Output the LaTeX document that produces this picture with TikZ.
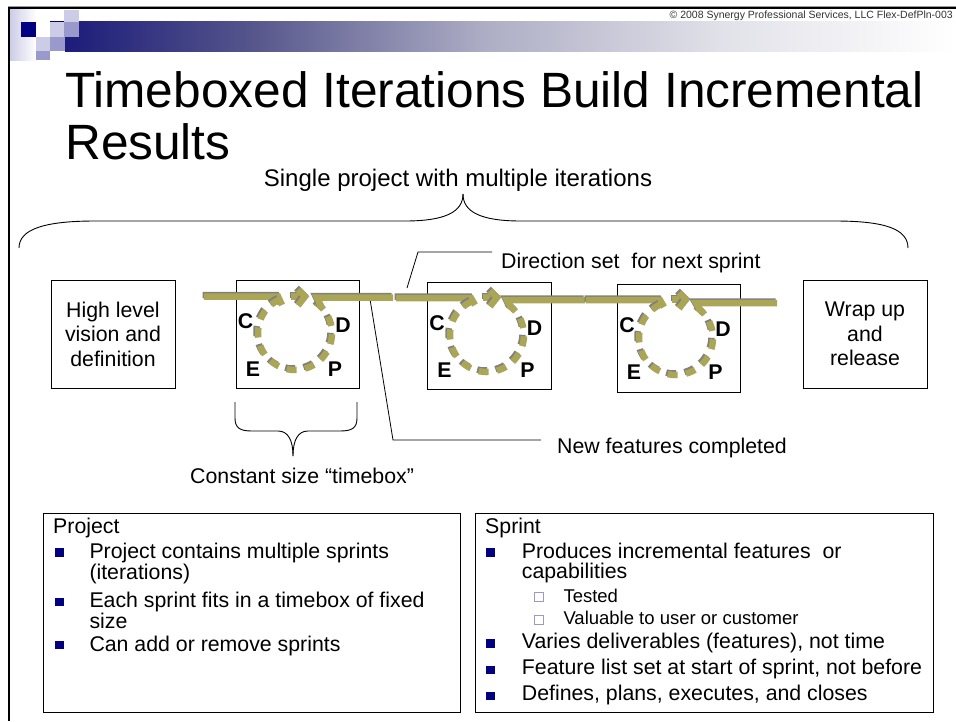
\documentclass[tikz,border=0pt]{standalone}
\usepackage{fontspec}
\setmainfont{Liberation Sans}
\definecolor{olv}{RGB}{170,166,86}
\definecolor{shd}{RGB}{128,128,128}
\definecolor{navyb}{RGB}{0,0,128}
\definecolor{lavA}{RGB}{204,204,230}
\definecolor{lavB}{RGB}{153,153,204}
\definecolor{barA}{RGB}{28,28,122}
\definecolor{barB}{RGB}{85,85,140}
\definecolor{barC}{RGB}{172,172,196}
\definecolor{barD}{RGB}{225,225,233}
\newcommand\olvpath[1]{\draw[shadow line] #1; \draw[olive line] #1;}
\newcommand\cycle[3]{% cx, cy, y0
  \olvpath{[dash pattern=on 10pt off 8.4pt] ($(#1,#2)+(-55:37)$) arc[start angle=-55, end angle=245, radius=37]}
  \olvpath{(#1-4,#3) -- (#1+4,#3)}
  \olvpath{(#1+3,#3-7) -- (#1+10,#3) -- (#1+3,#3+9)}
}
\usetikzlibrary{calc}
\tikzset{
  olive line/.style={line width=6.5pt, draw=olv, line join=miter},
  shadow line/.style={line width=6.5pt, draw=shd, line join=miter, shift={(-1.5,-1.5)}},
  frame box/.style={draw, line width=0.9pt, fill=white, inner sep=0pt},
  letter/.style={font=\fontsize{21.3}{24}\selectfont\bfseries, inner sep=0pt},
  txt/.style={font=\fontsize{21.3}{20}\selectfont, inner sep=0pt, anchor=base west},
  subtxt/.style={font=\fontsize{18.5}{20}\selectfont, inner sep=0pt, anchor=base west},
  boxtxt/.style={font=\fontsize{21.3}{24.5}\selectfont, align=center},
  bul/.style={fill=navyb, minimum size=8.5pt, inner sep=0pt},
  subbul/.style={draw=lavB, fill=white, line width=0.8pt, minimum size=9pt, inner sep=0pt},
  leader/.style={draw, line width=0.8pt},
  brace line/.style={draw, line width=0.9pt},
}
\begin{document}
\begin{tikzpicture}[x=1pt,y=-1pt]
\useasboundingbox (0,0) rectangle (956,721);
\fill[white] (0,0) rectangle (956,721);

% header bar
\shade[left color=barA, right color=barB] (65,21) rectangle (250.5,51);
\shade[left color=barB, right color=barC] (250,21) rectangle (480.5,51);
\shade[left color=barC, right color=barD] (480,21) rectangle (720.5,51);
\shade[left color=barD, right color=white] (720,21) rectangle (956,51);
\shade[left color=lavA, right color=white] (10,9) rectangle (36,60);
\fill[navyb] (21,22) rectangle (36,37);
\fill[lavA] (64,9.5) rectangle (79,22);
\fill[lavA] (50,22) rectangle (65,37);
\fill[lavA] (36,37) rectangle (50,51);
\fill[lavB] (64,22) rectangle (79,37);
\fill[lavB] (50,37) rectangle (65,51);
\fill[lavB] (36,51) rectangle (50,60);
\draw[navyb, line width=1pt] (50,21.5) -- (64,21.5);

% frame
\draw[black!40, line width=1pt] (8,6.2) -- (956,6.2);
\draw[black, line width=2.5pt] (8.8,721) -- (8.8,8) -- (956,8);

\node[font=\fontsize{10.5}{12}\selectfont, text=black!80, inner sep=0pt, anchor=base east] (copy) at (953,18) {© 2008 Synergy Professional Services, LLC Flex-DefPln-003};

% title
\node[font=\fontsize{49.6}{51}\selectfont, inner sep=0pt, anchor=base west] (title1) at (65,107.5) {Timeboxed Iterations Build Incremental};
\node[font=\fontsize{49.6}{51}\selectfont, inner sep=0pt, anchor=base west] (title2) at (65,159) {Results};

% top brace
\node[font=\fontsize{24}{26}\selectfont, inner sep=0pt, anchor=base] (single) at (458,186) {Single project with multiple iterations};
\draw[brace line] (19,248) .. controls (19,229) and (45,221) .. (95,221) -- (405,221) .. controls (445,221) and (463,212) .. (463,194);
\draw[brace line] (463,194) .. controls (463,212) and (481,221) .. (521,221) -- (835,221) .. controls (885,221) and (908,229) .. (908,248);

% boxes
\node[frame box, boxtxt, minimum width=124pt, minimum height=108pt] (hl) at (113,334) {High level\\vision and\\definition};
\node[frame box, minimum width=123pt, minimum height=108pt] (s1) at (297.5,334) {};
\node[frame box, minimum width=124pt, minimum height=107pt] (s2) at (489,335.5) {};
\node[frame box, minimum width=123pt, minimum height=108pt] (s3) at (678.5,338) {};
\node[frame box, boxtxt, minimum width=124pt, minimum height=108pt] (wr) at (865,334) {Wrap up\\and\\release};

% callouts
\coordinate (da) at (407,288);
\coordinate (db) at (418,252);
\coordinate (dc) at (492,252);
\draw[leader] (da) -- (db) -- (dc);
\node[txt] (dir) at (501,268) {Direction set\ \ for next sprint};
\coordinate (na) at (369,293);
\coordinate (nb) at (393,440);
\coordinate (nc) at (541,440);
\draw[leader] (na) -- (nb) -- (nc);
\node[txt] (newf) at (557,453) {New features completed};

% olive flow
\olvpath{(204,296.5) -- (278,296.5) -- (282,305)}
\cycle{295}{333}{296.5}
\olvpath{(321,306) -- (317,297.5) -- (393,297.5)}
\olvpath{(396,298) -- (471,298) -- (475,305)}
\cycle{487}{335}{297.5}
\olvpath{(511,308) -- (507,300) -- (585,300)}
\olvpath{(586,300) -- (660,300) -- (664,307)}
\cycle{676}{338}{299.5}
\olvpath{(700,310) -- (696,303) -- (777,303)}

% letters
\node[letter] (c1) at (245.5,321) {C};
\node[letter] (d1) at (343,325) {D};
\node[letter] (e1) at (253,369) {E};
\node[letter] (p1) at (335,369) {P};
\node[letter] (c2) at (437,322.7) {C};
\node[letter] (d2) at (534.5,328) {D};
\node[letter] (e2) at (444.5,370) {E};
\node[letter] (p2) at (527.5,370) {P};
\node[letter] (c3) at (627,325) {C};
\node[letter] (d3) at (723,329.3) {D};
\node[letter] (e3) at (634,372.3) {E};
\node[letter] (p3) at (715.5,372.3) {P};

% small brace
\draw[brace line] (235,402) -- (235,418) .. controls (235,428) and (240,431) .. (252,431) -- (278,431) .. controls (288,431) and (293,440) .. (293,456);
\draw[brace line] (293,456) .. controls (293,440) and (298,431) .. (308,431) -- (340,431) .. controls (352,431) and (357,428) .. (357,418) -- (357,402);
\node[txt] (const) at (190,483) {Constant size “timebox”};

% bottom boxes
\node[frame box, minimum width=417pt, minimum height=199pt] (proj) at (251.5,612.5) {};
\node[frame box, minimum width=458pt, minimum height=199pt] (spr) at (704,612.5) {};

\node[txt] (ph) at (53,533) {Project};
\node[bul] (pb1) at (59.3,552.5) {};
\node[txt] (pt1) at (89.3,558) {Project contains multiple sprints};
\node[txt] (pt1b) at (89.3,579) {(iterations)};
\node[bul] (pb2) at (59.3,602) {};
\node[txt] (pt2) at (89.3,607.5) {Each sprint fits in a timebox of fixed};
\node[txt] (pt2b) at (89.3,628.5) {size};
\node[bul] (pb3) at (59.3,645) {};
\node[txt] (pt3) at (89.3,651) {Can add or remove sprints};

\node[txt] (sh) at (485,533) {Sprint};
\node[bul] (sb1) at (490.5,552.5) {};
\node[txt] (st1) at (521.7,558.3) {Produces incremental features\ \ or};
\node[txt] (st1b) at (521.7,578.3) {capabilities};
\node[subbul] (ss1) at (539.2,597.2) {};
\node[subtxt] (sst1) at (563.3,602.3) {Tested};
\node[subbul] (ss2) at (539.2,619.5) {};
\node[subtxt] (sst2) at (563.3,624) {Valuable to user or customer};
\node[bul] (sb2) at (490.5,643.3) {};
\node[txt] (st2) at (521.7,648.3) {Varies deliverables (features), not time};
\node[bul] (sb3) at (490.5,670) {};
\node[txt] (st3) at (521.7,674.3) {Feature list set at start of sprint, not before};
\node[bul] (sb4) at (490.5,695.8) {};
\node[txt] (st4) at (521.7,700) {Defines, plans, executes, and closes};
\end{tikzpicture}
\end{document}
